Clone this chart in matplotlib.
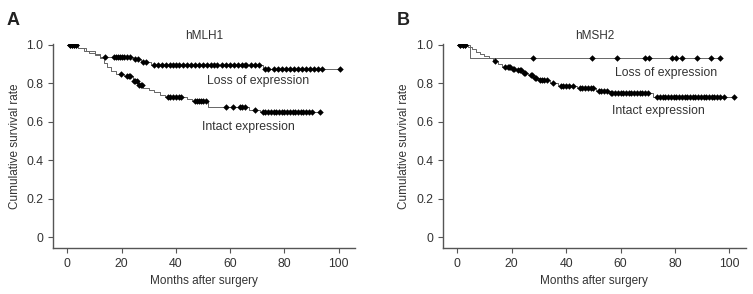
import numpy as np
import matplotlib
matplotlib.use("Agg")
import matplotlib.pyplot as plt

plt.rcParams['font.family'] = ['Liberation Sans', 'DejaVu Sans']

# hMLH1 - loss of expression
a_loss_t = [0, 4, 7, 10, 12, 24, 27, 31, 72]
a_loss_s = [1.0, 0.985, 0.967, 0.95, 0.936, 0.925, 0.91, 0.893, 0.876]
a_loss_cens = [1, 1.7, 2.4, 3, 13.7, 17, 18, 18.7, 19.5, 20.3, 21, 22, 23, 25, 26.2, 28, 29, 32,
               33.5, 35, 36.5, 38, 39, 40, 41, 42.5, 44, 45.5, 47, 48.5, 50, 51.5, 53, 54,
               55, 57, 58.5, 60, 61.5, 63, 64.5, 65.5, 66, 67.5, 69, 70.5, 73, 74, 76,
               77.5, 79, 80.5, 82, 83.5, 85, 86.5, 88, 89.5, 91, 92.5, 94, 100.6]

# hMLH1 - intact expression
a_int_t = [0, 4, 6, 8, 10, 12, 13.5, 14.5, 16, 18, 21, 24, 26, 28, 30, 32, 34, 36, 44, 46, 52, 67, 71]
a_int_s = [1.0, 0.985, 0.967, 0.955, 0.945, 0.93, 0.907, 0.885, 0.865, 0.85, 0.835, 0.81,
           0.79, 0.775, 0.765, 0.752, 0.74, 0.727, 0.715, 0.705, 0.674, 0.662, 0.65]
a_int_cens = [1, 1.7, 2.4, 3, 19.8, 22, 22.6, 23.2, 24.5, 25, 25.5, 26.5, 27, 27.5, 37, 38, 39,
              40, 41, 42, 47, 47.8, 48.5, 49.2, 50, 51, 58.6, 61, 63.5, 64.5, 65.4, 69, 72,
              73, 74, 75, 76, 77, 78, 79, 80, 81, 82, 83, 84, 85, 86, 87, 88, 89, 90, 93]

# hMSH2 - loss of expression
b_loss_t = [0, 4.8]
b_loss_s = [1.0, 0.93]
b_loss_cens = [1, 2, 3, 27.7, 49.5, 58.7, 69, 70.5, 79, 80.5, 82.6, 88, 93.4, 96.4]

# hMSH2 - intact expression
b_int_t = [0, 4, 5.5, 7, 8.5, 10, 11.5, 13, 15, 16.5, 20, 22, 24, 26, 28, 30, 34, 37, 44, 51, 56, 72]
b_int_s = [1.0, 0.99, 0.975, 0.96, 0.95, 0.94, 0.93, 0.917, 0.9, 0.885, 0.875, 0.867, 0.855,
           0.84, 0.828, 0.815, 0.8, 0.786, 0.775, 0.757, 0.75, 0.728]
b_int_cens = [1, 2, 3, 14, 17.6, 18.5, 19, 19.5, 20.5, 21, 22.5, 23, 23.5, 24.5, 25, 27, 27.5,
              28.5, 29, 30.5, 31, 32, 33, 35.3, 38, 39, 40, 41, 42.5, 45, 46, 47, 48, 49, 50,
              52, 53, 54, 55, 56.5, 57, 58, 59, 60, 61, 62, 63, 64, 65, 66, 67, 68, 69, 70,
              73.4, 74.5, 75.5, 76.5, 77.5, 78.5, 79.5, 80.5, 81.5, 82.5, 83.5, 84.5, 85.5,
              86.5, 87.5, 88.5, 89.5, 90.5, 91.5, 92.5, 93.5, 94.5, 95.5, 96.5, 98, 101.5]

yticks = [0, 0.2, 0.4, 0.6, 0.8, 1.0]
ytick_labels = ["0", "0.2", "0.4", "0.6", "0.8", "1.0"]
xticks = [0, 20, 40, 60, 80, 100]

TXT = "#333333"
SPINE = "#555555"


def km(ax, t, s, cens):
    end = max(max(t), max(cens))
    ax.step(list(t) + [end], list(s) + [s[-1]], where="post", color="#666666", lw=0.7, zorder=2)
    idx = np.searchsorted(t, cens, side="right") - 1
    ax.plot(cens, np.array(s)[idx], "D", color="black", ms=3.3, mew=0, zorder=3)


fig = plt.figure(figsize=(7.53, 2.94), dpi=100)
axA = fig.add_axes([0.0704, 0.1565, 0.401, 0.6935])
axB = fig.add_axes([0.588, 0.1565, 0.4024, 0.6935])

km(axA, a_loss_t, a_loss_s, a_loss_cens)
km(axA, a_int_t, a_int_s, a_int_cens)
km(axB, b_loss_t, b_loss_s, b_loss_cens)
km(axB, b_int_t, b_int_s, b_int_cens)

for ax, title in [(axA, "hMLH1"), (axB, "hMSH2")]:
    ax.set_xlim(-5.3, 106)
    ax.set_ylim(-0.057, 1.003)
    ax.spines["top"].set_visible(False)
    ax.spines["right"].set_visible(False)
    ax.spines["left"].set_color(SPINE)
    ax.spines["bottom"].set_color(SPINE)
    ax.spines["left"].set_linewidth(1.0)
    ax.spines["bottom"].set_linewidth(1.0)
    ax.set_xticks(xticks)
    ax.set_yticks(yticks)
    ax.set_yticklabels(ytick_labels)
    ax.tick_params(colors=SPINE, labelcolor=TXT, labelsize=8.8, length=3.5, width=0.8)
    ax.set_xlabel("Months after surgery", fontsize=8.5, color=TXT, labelpad=4)
    ax.set_ylabel("Cumulative survival rate", fontsize=8.5, color=TXT, labelpad=4)
    ax.set_title(title, fontsize=8.5, color=TXT, pad=4)

axA.text(51.3, 0.812, "Loss of expression", fontsize=8.8, color=TXT, va="center")
axA.text(49.8, 0.574, "Intact expression", fontsize=8.8, color=TXT, va="center")
axB.text(58.1, 0.854, "Loss of expression", fontsize=8.8, color=TXT, va="center")
axB.text(57.0, 0.657, "Intact expression", fontsize=8.8, color=TXT, va="center")

fig.text(0.009, 0.96, "A", fontsize=13, fontweight="bold", color="#222222", va="top",
         family=["Liberation Sans Narrow", "Liberation Sans", "DejaVu Sans"])
fig.text(0.527, 0.96, "B", fontsize=13, fontweight="bold", color="#222222", va="top",
         family=["Liberation Sans Narrow", "Liberation Sans", "DejaVu Sans"])

fig.savefig("out.png", dpi=100)
